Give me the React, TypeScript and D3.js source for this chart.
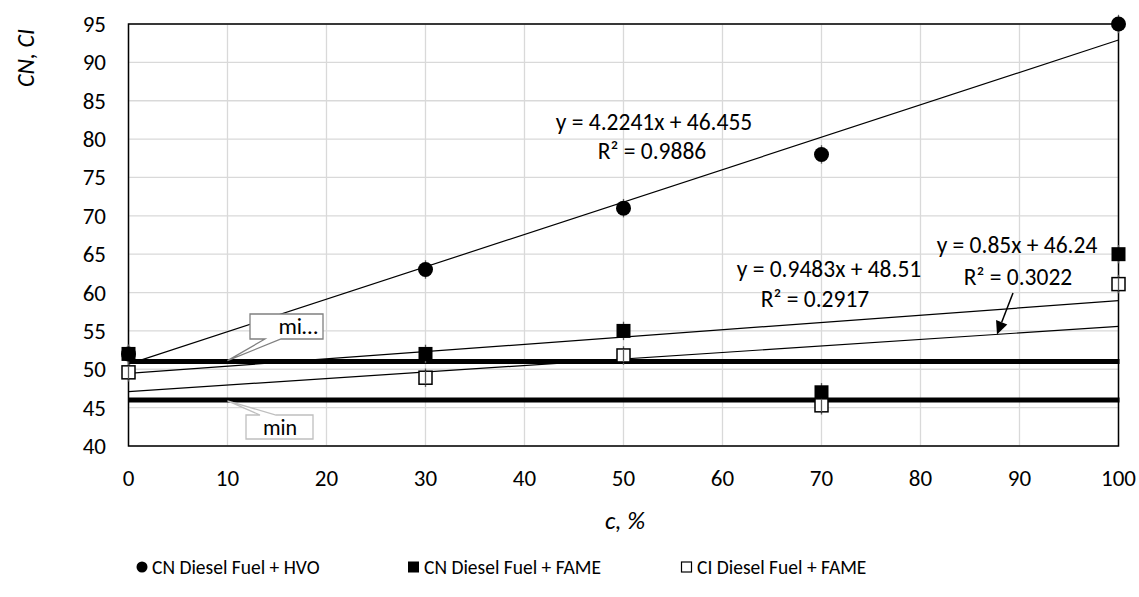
import React from "react";
import * as d3 from "d3";

const concentrations = [0, 30, 50, 70, 100];
const cnHvo = [52, 63, 71, 78, 95];
const cnFame = [52, 52, 55, 47, 65];
const ciFame = [49.6, 48.9, 51.8, 45.3, 61.1];
const errorHalf = 1.2;

// trendline coefficients (x is the point index 1..n, i.e. c/10 + 1)
const trendHvo = { slope: 4.2241, intercept: 46.455, r2: 0.9886 };
const trendCnFame = { slope: 0.9483, intercept: 48.51, r2: 0.2917 };
const trendCiFame = { slope: 0.85, intercept: 46.24, r2: 0.3022 };

const limitLines = [51, 46];
const xTicks = d3.range(0, 101, 10);
const yTicks = d3.range(40, 96, 5);
const legendLabels = ["CN Diesel Fuel + HVO", "CN Diesel Fuel + FAME", "CI Diesel Fuel + FAME"];

const FONT = "Carlito, Calibri, Lato, 'Open Sans', sans-serif";

type Trend = { slope: number; intercept: number; r2: number };

export default function App() {
  const W = 1139, H = 597;
  const x = d3.scaleLinear().domain([0, 100]).range([128.5, 1118.5]);
  const y = d3.scaleLinear().domain([40, 95]).range([446, 24]);
  const trendY = (t: Trend, c: number) => t.slope * (c / 10 + 1) + t.intercept;
  const trendPath = (t: Trend) =>
    d3.line<number>().x((c) => x(c)).y((c) => y(trendY(t, c)))([0, 100]) as string;

  const fmtEq = (t: Trend) => `y = ${t.slope}x + ${t.intercept}`;
  const eqSize = 23.5;

  return (
    <svg width={W} height={H} style={{ position: "absolute", left: 0, top: 0, background: "#fff" }}
      fontFamily={FONT}>
      {/* grid */}
      {xTicks.map((t) => (
        <line key={"gx" + t} x1={x(t)} x2={x(t)} y1={y(95)} y2={y(40)} stroke="#d9d9d9" strokeWidth={1.3} />
      ))}
      {yTicks.map((t) => (
        <line key={"gy" + t} x1={x(0)} x2={x(100)} y1={y(t)} y2={y(t)} stroke="#d9d9d9" strokeWidth={1.3} />
      ))}
      {/* plot frame */}
      <rect x={x(0)} y={y(95)} width={x(100) - x(0)} height={y(40) - y(95)} fill="none" stroke="#000" strokeWidth={1.5} />

      {/* tick labels */}
      {xTicks.map((t) => (
        <text key={"tx" + t} x={x(t)} y={486} textAnchor="middle" fontSize={23} fill="#000">{t}</text>
      ))}
      {yTicks.map((t) => (
        <text key={"ty" + t} x={106} y={y(t) + 8} textAnchor="end" fontSize={23} fill="#000">{t}</text>
      ))}

      {/* axis titles */}
      <text x={625} y={529} textAnchor="middle" fontSize={25} fontStyle="italic">c, %</text>
      <text transform={`translate(34,58) rotate(-90)`} textAnchor="middle" fontSize={24} fontStyle="italic">CN, CI</text>

      {/* limit lines */}
      {limitLines.map((v) => (
        <line key={"lim" + v} x1={x(0)} x2={x(100) + 1} y1={y(v)} y2={y(v)} stroke="#000" strokeWidth={5} />
      ))}

      {/* trendlines */}
      {[trendHvo, trendCnFame, trendCiFame].map((t, i) => (
        <path key={"tr" + i} d={trendPath(t)} fill="none" stroke="#000" strokeWidth={1.2} />
      ))}

      {/* error bars */}
      {[cnHvo, cnFame, ciFame].map((s, si) =>
        s.map((v, i) => (
          <line key={`eb${si}-${i}`} x1={x(concentrations[i])} x2={x(concentrations[i])}
            y1={y(v - errorHalf)} y2={y(v + errorHalf)} stroke="#595959" strokeWidth={1.3} />
        ))
      )}

      {/* markers */}
      {cnHvo.map((v, i) => (
        <circle key={"h" + i} cx={x(concentrations[i])} cy={y(v)} r={7.5} fill="#000" />
      ))}
      {cnFame.map((v, i) => (
        <rect key={"f" + i} x={x(concentrations[i]) - 7} y={y(v) - 7} width={14} height={14} fill="#000" />
      ))}
      {ciFame.map((v, i) => (
        <g key={"c" + i}>
          <rect x={x(concentrations[i]) - 6.5} y={y(v) - 6.5} width={13} height={13} fill="#fff" stroke="#000" strokeWidth={1.5} />
          <line x1={x(concentrations[i])} x2={x(concentrations[i])} y1={y(v) - 6.5} y2={y(v) + 6.5} stroke="#595959" strokeWidth={1.3} />
        </g>
      ))}

      {/* trendline equations */}
      <g fontSize={eqSize}>
        <text x={654} y={130} textAnchor="middle">{fmtEq(trendHvo)}</text>
        <text x={652} y={159} textAnchor="middle">R² = {trendHvo.r2}</text>
        <text x={829} y={277} textAnchor="middle">{fmtEq(trendCnFame)}</text>
        <text x={815} y={307} textAnchor="middle">{"R² = " + trendCnFame.r2}</text>
        <text x={1017} y={253} textAnchor="middle">{fmtEq(trendCiFame)}</text>
        <text x={1018} y={285} textAnchor="middle">{"R² = " + trendCiFame.r2}</text>
      </g>

      {/* arrow to the CI trendline */}
      {(() => {
        const tipX = 997;
        const tipY = y(trendY(trendCiFame, x.invert(tipX)));
        const sx = 1013, sy = 293;
        const ang = Math.atan2(tipY - sy, tipX - sx);
        const L = 13, Wd = 6;
        const bx = tipX - L * Math.cos(ang), by = tipY - L * Math.sin(ang);
        const px = -Math.sin(ang) * Wd, py = Math.cos(ang) * Wd;
        return (
          <g>
            <line x1={sx} y1={sy} x2={bx} y2={by} stroke="#000" strokeWidth={1.5} />
            <path d={`M${tipX},${tipY}L${bx + px},${by + py}L${bx - px},${by - py}Z`} fill="#000" />
          </g>
        );
      })()}

      {/* callouts for the limit lines */}
      <path d={`M250,314H323V339H281L${x(10)},${y(limitLines[0]) - 1}L265,339H250Z`}
        fill="#fff" stroke="#808080" strokeWidth={1.3} />
      <text x={318} y={334} textAnchor="end" fontSize={23}>mi…</text>
      <path d={`M246,439V415H260L${x(10)},${y(limitLines[1]) + 1}L276,415H313V439Z`}
        fill="#fff" stroke="#bfbfbf" strokeWidth={1.3} />
      <text x={280} y={435} textAnchor="middle" fontSize={22}>min</text>

      {/* legend */}
      <g fontSize={19.5}>
        <circle cx={142} cy={567} r={5.5} fill="#000" />
        <text x={152} y={574}>{legendLabels[0]}</text>
        <rect x={408} y={561.5} width={11} height={11} fill="#000" />
        <text x={424} y={574}>{legendLabels[1]}</text>
        <rect x={681.5} y={562} width={10} height={10} fill="#fff" stroke="#000" strokeWidth={1.2} />
        <text x={697} y={574}>{legendLabels[2]}</text>
      </g>
    </svg>
  );
}
